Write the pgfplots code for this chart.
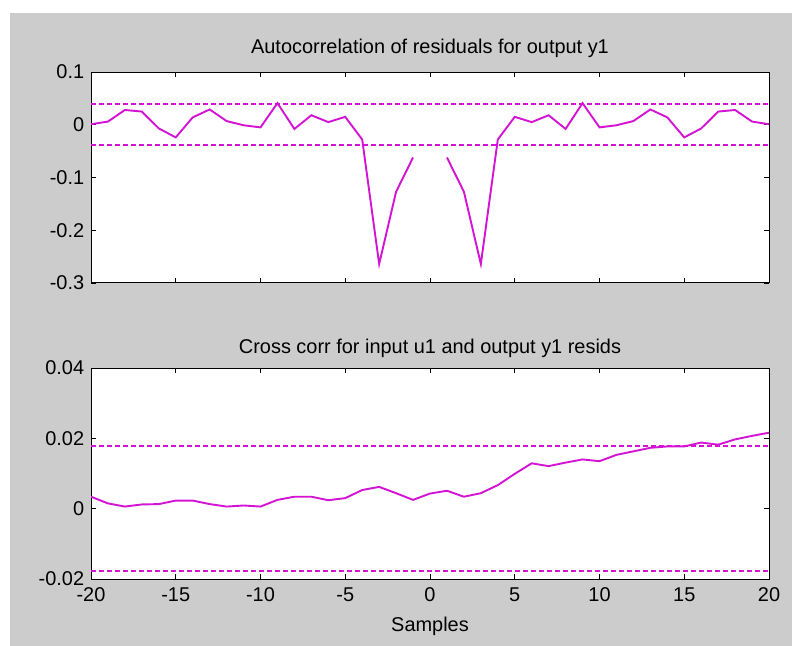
\documentclass[border=0pt]{standalone}
\usepackage{pgfplots}
\pgfplotsset{compat=1.18}
\usepackage{fontspec}
\setmainfont{Liberation Sans}
\definecolor{figgray}{RGB}{204,204,204}
\definecolor{mag}{RGB}{212,20,212}
\pgfplotstableread{
k v
-20 0.001
-19 0.006
-18 0.028
-17 0.025
-16 -0.007
-15 -0.024
-14 0.014
-13 0.029
-12 0.007
-11 -0.001
-10 -0.005
-9 0.041
-8 -0.008
-7 0.018
-6 0.005
-5 0.015
-4 -0.028
-3 -0.264
-2 -0.127
-1 -0.062
0 nan
1 -0.062
2 -0.127
3 -0.264
4 -0.028
5 0.015
6 0.005
7 0.018
8 -0.008
9 0.041
10 -0.005
11 -0.001
12 0.007
13 0.029
14 0.014
15 -0.024
16 -0.007
17 0.025
18 0.028
19 0.006
20 0.001
}\autodata
\pgfplotstableread{
k v
-20 0.0034
-19 0.0015
-18 0.0006
-17 0.0012
-16 0.0013
-15 0.0023
-14 0.0023
-13 0.0013
-12 0.0006
-11 0.0009
-10 0.0006
-9 0.0025
-8 0.0034
-7 0.0034
-6 0.0024
-5 0.0030
-4 0.0053
-3 0.0062
-2 0.0044
-1 0.0025
0 0.0043
1 0.0051
2 0.0034
3 0.0044
4 0.0067
5 0.0099
6 0.0129
7 0.0121
8 0.0131
9 0.0140
10 0.0135
11 0.0153
12 0.0163
13 0.0173
14 0.0177
15 0.0177
16 0.0188
17 0.0182
18 0.0197
19 0.0207
20 0.0216
}\crossdata
\begin{document}
\fontsize{20}{23}\selectfont
\begin{tikzpicture}
\fill[white] (0bp,0bp) rectangle (792bp,646bp);
\fill[figgray] (10bp,0bp) rectangle (792bp,633bp);
\pgfplotsset{
  mystyle/.style={
    scale only axis, width=678bp, height=211bp,
    anchor=south west,
    xmin=-20, xmax=20,
    xtick={-20,-15,...,20},
    scaled ticks=false,
    tick align=inside, xtick pos=both, ytick pos=both,
    major tick length=5bp,
    axis line style={black, line width=1pt},
    every tick/.style={black, line width=0.9pt},
    axis background/.style={fill=white},
    tick label style={font=\fontsize{20}{23}\selectfont},
    xticklabel style={yshift=-2bp},
    title style={font=\fontsize{20}{23}\selectfont, at={(0.5,1)}, anchor=base},
    label style={font=\fontsize{20}{23}\selectfont},
    xlabel style={yshift=-2bp},
    unbounded coords=jump,
  },
  dline/.style={mag, line width=1.9bp, dash pattern=on 5bp off 3bp},
  sline/.style={mag, line width=1.9bp},
}
\begin{axis}[mystyle, at={(91bp,363bp)},
  ymin=-0.3, ymax=0.1,
  ytick={-0.3,-0.2,-0.1,0,0.1},
  yticklabels={-0.3,-0.2,-0.1,0,0.1},
  xticklabels={},
  title style={yshift=13bp},
  title={Autocorrelation of residuals for output y1}]
\addplot[sline] table[x=k,y=v] {\autodata};
\addplot[dline] coordinates {(-20,0.0386) (20,0.0386)};
\addplot[dline] coordinates {(-20,-0.0386) (20,-0.0386)};
\end{axis}
\begin{axis}[mystyle, at={(91bp,67bp)},
  ymin=-0.02, ymax=0.04,
  ytick={-0.02,0,0.02,0.04},
  yticklabels={-0.02,0,0.02,0.04},
  xticklabels={-20,-15,-10,-5,0,5,10,15,20},
  xlabel={Samples},
  title style={yshift=9bp},
  title={Cross corr for input u1 and output y1 resids}]
\addplot[sline] table[x=k,y=v] {\crossdata};
\addplot[dline] coordinates {(-20,0.0178) (20,0.0178)};
\addplot[dline] coordinates {(-20,-0.0178) (20,-0.0178)};
\end{axis}
\path (0bp,0bp) rectangle (792bp,646bp);
\end{tikzpicture}
\end{document}
